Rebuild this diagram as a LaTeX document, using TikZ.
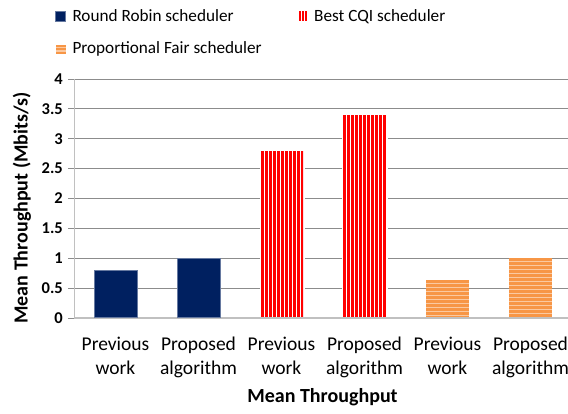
\documentclass[tikz,border=0pt]{standalone}
\usepackage{fontspec,tikz}
\setmainfont{Carlito}
\definecolor{rrnavy}{HTML}{002060}
\definecolor{cqired}{HTML}{FF0000}
\definecolor{pforange}{HTML}{F79646}
\definecolor{pflight}{HTML}{FBC9A0}
\definecolor{gridgray}{HTML}{8C8C8C}
\definecolor{axisgray}{HTML}{C0C0C0}

\begin{document}
\begin{tikzpicture}[x=1pt,y=-1pt,
  gridline/.style={draw=gridgray,line width=0.9pt},
  tickmark/.style={draw=gridgray,line width=0.9pt},
  ticklabel/.style={anchor=east,inner sep=0pt,font=\fontsize{16.5}{19.8}\selectfont\bfseries},
  catlabel/.style={anchor=base,inner sep=0pt,font=\fontsize{19.5}{23.4}\selectfont},
  legendtext/.style={anchor=base west,inner sep=0pt,font=\fontsize{17.2}{20.6}\selectfont},
  axistitle/.style={inner sep=0pt,font=\fontsize{20}{24}\selectfont\bfseries},
  rrbar/.style={fill=rrnavy,draw=rrnavy!60!white,line width=0.6pt},
  cqistripe/.style={fill=cqired},
  pfstripe/.style={fill=pforange}]
\path[use as bounding box] (0,0) rectangle (568.0,414.0);
% legend
\path[rrbar] (55.7,11.0) rectangle (65.7,21.0);
\node[legendtext] (legRR) at (72.3,21.3) {Round Robin scheduler};
\path[cqistripe] (299.3,11.0) rectangle (301.3,21.0);
\path[cqistripe] (302.3,11.0) rectangle (304.3,21.0);
\path[cqistripe] (305.3,11.0) rectangle (307.3,21.0);
\node[legendtext] (legCQI) at (314.0,21.3) {Best CQI scheduler};
\path[fill=pflight] (55.7,45.0) rectangle (65.7,54.0);
\path[pfstripe] (55.7,45.0) rectangle (65.7,47.0);
\path[pfstripe] (55.7,48.5) rectangle (65.7,50.5);
\path[pfstripe] (55.7,52.0) rectangle (65.7,54.0);
\node[legendtext] (legPF) at (72.3,53.3) {Proportional Fair scheduler};
% grid and value axis
\draw[gridline] (68,79.0) -- (568,79.0);
\draw[gridline] (68,108.9) -- (568,108.9);
\draw[gridline] (68,138.75) -- (568,138.75);
\draw[gridline] (68,168.6) -- (568,168.6);
\draw[gridline] (68,198.5) -- (568,198.5);
\draw[gridline] (68,228.4) -- (568,228.4);
\draw[gridline] (68,258.25) -- (568,258.25);
\draw[gridline] (68,288.1) -- (568,288.1);
\draw[draw=axisgray,line width=0.9pt] (74,79.0) -- (74,318.0);
\draw[tickmark] (68,318.0) -- (74,318.0);
\draw[draw=axisgray,line width=2pt] (74,318.0) -- (568,318.0);
\node[ticklabel] (t40) at (63,79.0) {4};
\node[ticklabel] (t35) at (63,108.9) {3.5};
\node[ticklabel] (t30) at (63,138.75) {3};
\node[ticklabel] (t25) at (63,168.6) {2.5};
\node[ticklabel] (t20) at (63,198.5) {2};
\node[ticklabel] (t15) at (63,228.4) {1.5};
\node[ticklabel] (t10) at (63,258.25) {1};
\node[ticklabel] (t05) at (63,288.1) {0.5};
\node[ticklabel] (t00) at (63,318.0) {0};
% bars, round robin
\path[rrbar] (94.0,270.2) rectangle (137.0,317.0);
\path[rrbar] (177.0,258.25) rectangle (220.0,317.0);
% bars, best cqi
\path[fill=white] (259.5,149.5) rectangle (304.5,317.0);
\begin{scope}
\clip (261.0,150.7) rectangle (303.0,317.0);
\foreach \k in {0,...,10} \path[cqistripe] (261+4*\k,150.7) rectangle (263.5+4*\k,317.0);
\end{scope}
\path[fill=white] (341.5,113.5) rectangle (387.5,317.0);
\begin{scope}
\clip (343.0,114.85) rectangle (386.0,317.0);
\foreach \k in {0,...,10} \path[cqistripe] (343+4*\k,114.85) rectangle (345.5+4*\k,317.0);
\end{scope}
% bars, proportional fair
\begin{scope}
\clip (426.0,279.8) rectangle (469.0,317.0);
\path[fill=pflight] (426.0,279.8) rectangle (469.0,317.0);
\foreach \k in {0,...,9} \path[pfstripe] (426.0,279.8+4*\k) rectangle (469.0,282.6+4*\k);
\end{scope}
\begin{scope}
\clip (509.0,258.25) rectangle (552.0,317.0);
\path[fill=pflight] (509.0,258.25) rectangle (552.0,317.0);
\foreach \k in {0,...,14} \path[pfstripe] (509.0,258.25+4*\k) rectangle (552.0,261.05+4*\k);
\end{scope}
% category labels
\node[catlabel] (c1a) at (115.5,350.7) {Previous};
\node[catlabel] (c1b) at (115.5,374.0) {work};
\node[catlabel] (c2a) at (198.5,350.7) {Proposed};
\node[catlabel] (c2b) at (198.5,374.0) {algorithm};
\node[catlabel] (c3a) at (281.5,350.7) {Previous};
\node[catlabel] (c3b) at (281.5,374.0) {work};
\node[catlabel] (c4a) at (364.5,350.7) {Proposed};
\node[catlabel] (c4b) at (364.5,374.0) {algorithm};
\node[catlabel] (c5a) at (447.5,350.7) {Previous};
\node[catlabel] (c5b) at (447.5,374.0) {work};
\node[catlabel] (c6a) at (530.5,350.7) {Proposed};
\node[catlabel] (c6b) at (530.5,374.0) {algorithm};
% axis titles
\node[axistitle,anchor=base] (xtitle) at (322.5,402.3) {Mean Throughput};
\node[axistitle,rotate=90] (ytitle) at (22,208) {Mean Throughput (Mbits/s)};
\end{tikzpicture}
\end{document}
